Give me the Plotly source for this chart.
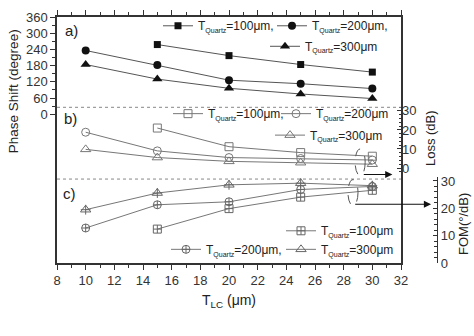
import plotly.graph_objects as go

FONT = "Liberation Sans, Arial, sans-serif"

# ---------------- data ----------------
t_lc_100 = [15, 20, 25, 30]
t_lc = [10, 15, 20, 25, 30]

phase_100 = [258, 217, 184, 156]
phase_200 = [236, 182, 126, 113, 95]
phase_300 = [184, 130, 96, 75, 58]

loss_100 = [21.0, 11.2, 8.1, 6.2]
loss_200 = [18.8, 9.0, 5.5, 5.0, 4.2]
loss_300 = [9.8, 5.5, 3.5, 2.8, 2.0]

fom_100 = [12.4, 19.9, 24.1, 26.6]
fom_200 = [12.8, 21.3, 22.4, 26.9, 28.0]
fom_300 = [19.5, 25.6, 28.6, 29.2, 28.3]

x_ticks = list(range(8, 33, 2))
phase_ticks = [0, 60, 120, 180, 240, 300, 360]
loss_ticks = [0, 10, 20, 30]
fom_ticks = [0, 10, 20, 30]

# ---------------- layout geometry (pixels) ----------------
W, H = 474, 336
L, R, T, B = 57, 30, 11, 73
PW = W - L - R
PH = H - T - B
FRAME_RIGHT = 401


def px(xp):
    return (xp - L) / PW


def py(yp):
    return (H - B - yp) / PH


def name(v, comma=False):
    return ("T<sub><span style='font-size:7px'>Quartz</span></sub>=%dμm" % v) + ("," if comma else "")


def leg(left, cy):
    return dict(x=px(left), xanchor="left", y=py(cy), yanchor="middle",
                orientation="h", bgcolor="rgba(0,0,0,0)", borderwidth=0,
                font=dict(size=12, color="#222", family=FONT),
                itemwidth=30, tracegroupgap=0)


fig = go.Figure()

LINE_A = dict(color="#555", width=1)
LINE_B = dict(color="#777", width=1)
MK_A = "#111"
MK_B = "#777"
MK_C = "#666"

# Panel a (phase shift)
fig.add_trace(go.Scatter(x=t_lc_100, y=phase_100, mode="lines+markers", name=name(100, True),
                         line=LINE_A, marker=dict(symbol="square", size=7, color=MK_A),
                         legend="legend", cliponaxis=False))
fig.add_trace(go.Scatter(x=t_lc, y=phase_200, mode="lines+markers", name=name(200, True),
                         line=LINE_A, marker=dict(symbol="circle", size=8, color=MK_A),
                         legend="legend2", cliponaxis=False))
fig.add_trace(go.Scatter(x=t_lc, y=phase_300, mode="lines+markers", name=name(300),
                         line=LINE_A, marker=dict(symbol="triangle-up", size=9, color=MK_A),
                         legend="legend3", cliponaxis=False))

# Panel b (loss)
fig.add_trace(go.Scatter(x=t_lc_100, y=loss_100, yaxis="y2", mode="lines+markers", name=name(100, True),
                         line=LINE_B, marker=dict(symbol="square-open", size=8, color=MK_B),
                         legend="legend4", cliponaxis=False))
fig.add_trace(go.Scatter(x=t_lc, y=loss_200, yaxis="y2", mode="lines+markers", name=name(200),
                         line=LINE_B, marker=dict(symbol="circle-open", size=8, color=MK_B),
                         legend="legend5", cliponaxis=False))
fig.add_trace(go.Scatter(x=t_lc, y=loss_300, yaxis="y2", mode="lines+markers", name=name(300),
                         line=LINE_B, marker=dict(symbol="triangle-up-open", size=9, color=MK_B),
                         legend="legend6", cliponaxis=False))

# Panel c (FOM)
fig.add_trace(go.Scatter(x=t_lc_100, y=fom_100, yaxis="y3", mode="lines+markers", name=name(100),
                         line=LINE_B, marker=dict(symbol="square-cross-open", size=8, color=MK_C),
                         legend="legend7", cliponaxis=False))
fig.add_trace(go.Scatter(x=t_lc, y=fom_200, yaxis="y3", mode="lines+markers", name=name(200, True),
                         line=LINE_B, marker=dict(symbol="circle-cross-open", size=8, color=MK_C),
                         legend="legend8", cliponaxis=False))
fig.add_trace(go.Scatter(x=t_lc, y=fom_300, yaxis="y3", mode="lines+markers", name=name(300),
                         line=LINE_B, marker=dict(symbol="triangle-up-open", size=9, color=MK_C),
                         legend="legend9", cliponaxis=False))
fig.add_trace(go.Scatter(x=t_lc, y=fom_300, yaxis="y3", mode="markers", showlegend=False,
                         marker=dict(symbol="cross-thin-open", size=7, color=MK_C,
                                     line=dict(width=1, color=MK_C)),
                         cliponaxis=False))

AX = "#333"
TICKFONT = dict(size=13, color="#333", family=FONT)

phase_lo = -(H - B - (T + 99.6)) / (99.6 / 360)
fig.update_layout(
    width=W, height=H,
    margin=dict(l=L, r=R, t=T, b=B, pad=0),
    paper_bgcolor="white", plot_bgcolor="white",
    font=dict(family=FONT, color="#222"),
    xaxis=dict(domain=[0, (FRAME_RIGHT - L) / PW], range=[8, 32], anchor="y",
               tickmode="array", tickvals=x_ticks, ticks="outside", ticklen=5, tickwidth=1,
               tickcolor=AX, showline=True, linecolor=AX, linewidth=1.5, mirror="ticks",
               showgrid=False, zeroline=False, tickfont=TICKFONT,
               minor=dict(dtick=1, ticks="outside", ticklen=3, tickcolor=AX, showgrid=False)),
    yaxis=dict(domain=[0, 1], range=[phase_lo, 360], tickmode="array", tickvals=phase_ticks,
               ticks="outside", ticklen=5, tickwidth=1, tickcolor=AX, showline=True,
               linecolor=AX, linewidth=1.5, mirror=True, showgrid=False, zeroline=False,
               tickfont=TICKFONT,
               minor=dict(tickvals=[30, 90, 150, 210, 270, 330], ticks="outside", ticklen=3,
                          tickcolor=AX, showgrid=False)),
    yaxis2=dict(overlaying="y", side="right", anchor="x",
                range=[-(H - B - 165.7) / 1.95, (165.7 - T) / 1.95],
                tickmode="array", tickvals=loss_ticks, ticks="inside", ticklen=4, tickcolor=AX,
                showline=False, showgrid=False, zeroline=False, tickfont=TICKFONT,
                minor=dict(tickvals=[-2, 2, 4, 6, 8, 12, 14, 16, 18, 22, 24, 26, 28, 32],
                           ticks="inside", ticklen=2.5, tickcolor=AX, showgrid=False)),
    yaxis3=dict(anchor="free", position=px(437), side="right",
                domain=[0, py(175)], range=[0, (H - B - 175) / 2.8],
                tickmode="array", tickvals=fom_ticks, ticks="inside", ticklen=4, tickcolor=AX,
                showline=True, linecolor=AX, linewidth=1.2, showgrid=False, zeroline=False,
                tickfont=TICKFONT,
                minor=dict(tickvals=[2, 4, 6, 8, 12, 14, 16, 18, 22, 24, 26, 28],
                           ticks="inside", ticklen=2.5, tickcolor=AX, showgrid=False)),
    legend=leg(158, 20),
    legend2=leg(272, 20),
    legend3=leg(265, 41),
    legend4=leg(168, 110),
    legend5=leg(276, 110),
    legend6=leg(270, 132),
    legend7=leg(281, 230),
    legend8=leg(166, 249),
    legend9=leg(281, 249),
    showlegend=True,
)

# dotted separators
for yp in (103.5, 177):
    fig.add_shape(type="line", xref="x domain", yref="paper", x0=0, x1=1, y0=py(yp), y1=py(yp),
                  line=dict(color="#888", width=1, dash="dot"))

# dashed ellipses
fig.add_shape(type="circle", xref="x", yref="y2", x0=28.8, x1=29.5, y0=-4, y1=10,
              line=dict(color="#555", width=1, dash="dash"))
fig.add_shape(type="circle", xref="x", yref="y3", x0=28.3, x1=29.0, y0=21, y1=30.5,
              line=dict(color="#555", width=1, dash="dash"))

# arrows
fig.add_annotation(x=31.4, y=-3.4, xref="x", yref="y2", ax=29.3, ay=-3.4, axref="x", ayref="y2",
                   showarrow=True, arrowhead=2, arrowsize=1.2, arrowwidth=1.2, arrowcolor="#111", text="")
fig.add_annotation(x=34.1, y=21.5, xref="x", yref="y3", ax=28.7, ay=21.5, axref="x", ayref="y3",
                   showarrow=True, arrowhead=2, arrowsize=1.2, arrowwidth=1.2, arrowcolor="#111", text="")

# titles and panel labels
def label(text, xp, yp, size, angle=0):
    fig.add_annotation(text=text, x=px(xp), y=py(yp), xref="paper", yref="paper",
                       showarrow=False, textangle=angle, xanchor="center", yanchor="middle",
                       font=dict(size=size, color="#222", family=FONT))

label("Phase Shift (degree)", 13, 87, 13.5, -90)
label("Loss (dB)", 430, 135, 13, -90)
label("FOM(°/dB)", 464, 223, 13, -90)
label("T<sub>LC</sub> (μm)", 229, 302, 14)
label("a)", 71, 25, 15)
label("b)", 70, 115, 15)
label("c)", 69, 192, 15)

fig.write_html("out.html")
